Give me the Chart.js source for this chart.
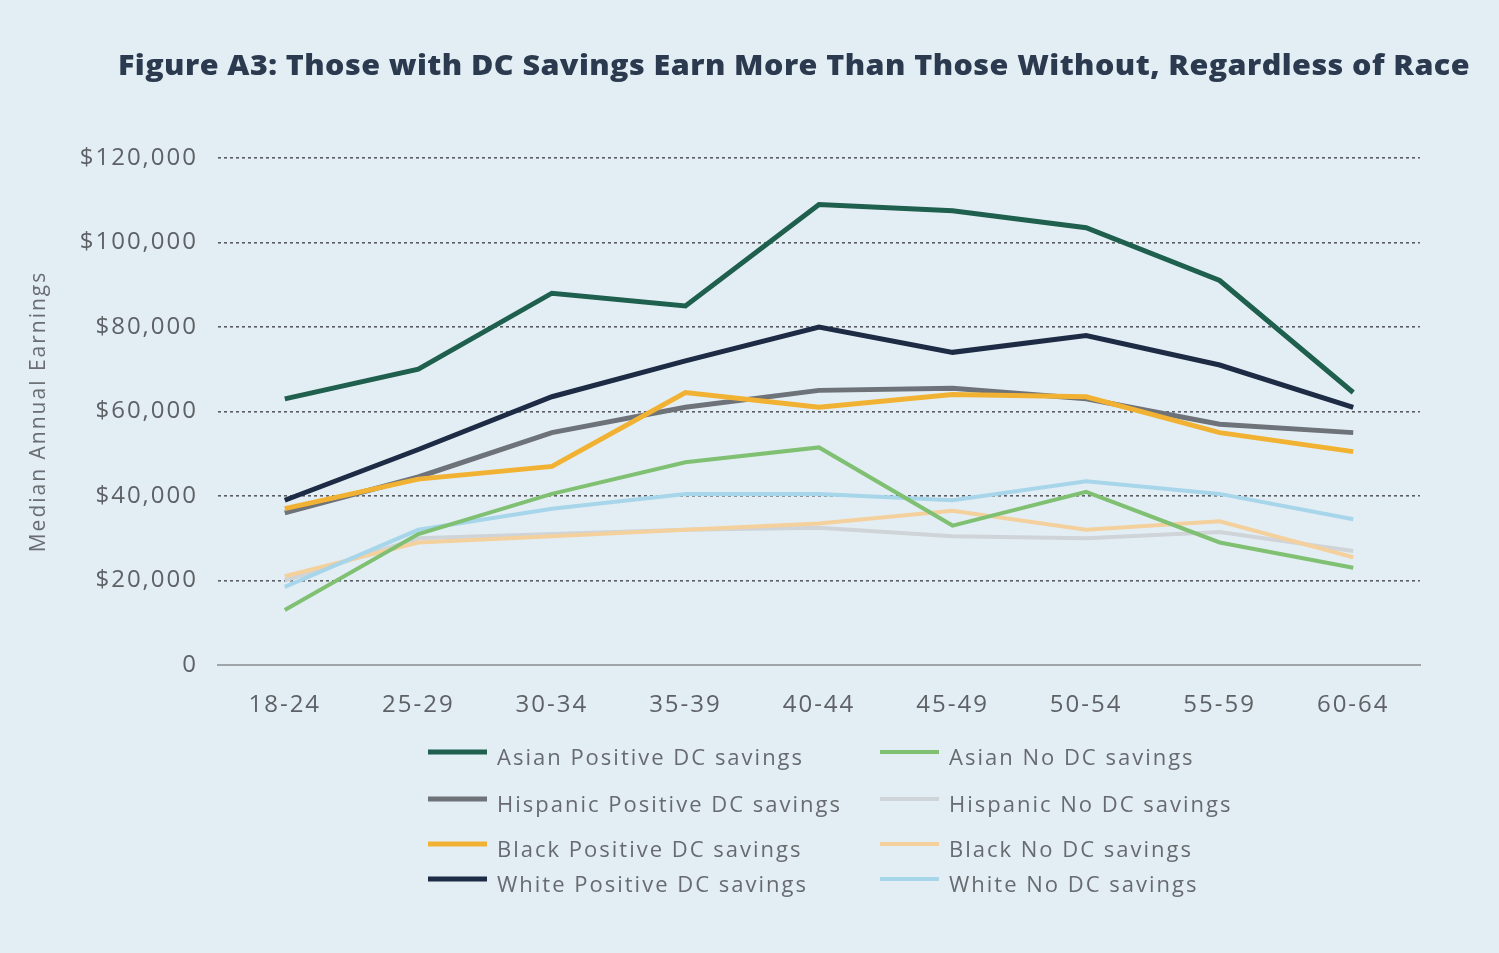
<!DOCTYPE html>
<html>
<head>
<meta charset="utf-8">
<script src="https://cdn.jsdelivr.net/npm/chart.js@4.4.1/dist/chart.umd.min.js"></script>
<style>
  html, body { margin: 0; padding: 0; background: #e3eef4; }
  #wrap { width: 1499px; height: 953px; position: relative; }
</style>
</head>
<body>
<div id="wrap"><canvas id="earningsChart" width="1499" height="953"></canvas></div>
<script>
// Median annual earnings by age group, with and without DC savings
const ageGroups = ['18-24', '25-29', '30-34', '35-39', '40-44', '45-49', '50-54', '55-59', '60-64'];

const asianPositive    = [63000, 70000, 88000, 85000, 109000, 107500, 103500, 91000, 64500];
const asianNone        = [13000, 31000, 40500, 48000, 51500, 33000, 41000, 29000, 23000];
const hispanicPositive = [36000, 44500, 55000, 61000, 65000, 65500, 63000, 57000, 55000];
const hispanicNone     = [20000, 30000, 31000, 32000, 32500, 30500, 30000, 31500, 27000];
const blackPositive    = [37000, 44000, 47000, 64500, 61000, 64000, 63500, 55000, 50500];
const blackNone        = [21000, 29000, 30500, 32000, 33500, 36500, 32000, 34000, 25500];
const whitePositive    = [39000, 51000, 63500, 72000, 80000, 74000, 78000, 71000, 61000];
const whiteNone        = [18500, 32000, 37000, 40500, 40500, 39000, 43500, 40500, 34500];

const yTicks = [0, 20000, 40000, 60000, 80000, 100000, 120000];

const chartTitle = 'Figure A3: Those with DC Savings Earn More Than Those Without, Regardless of Race';

function series(label, data, color, width) {
    return {
        label: label,
        data: data,
        borderColor: color,
        backgroundColor: color,
        borderWidth: width,
        pointRadius: 0,
        pointHoverRadius: 0,
        tension: 0,
        fill: false
    };
}

// darker "positive" lines first so they sit on top
const datasets = [
    series('Asian Positive DC savings', asianPositive, '#1f5f4e', 5),
    series('White Positive DC savings', whitePositive, '#1e2b45', 5),
    series('Black Positive DC savings', blackPositive, '#f1b234', 5),
    series('Hispanic Positive DC savings', hispanicPositive, '#6e7379', 5),
    series('Asian No DC savings', asianNone, '#80c073', 4),
    series('White No DC savings', whiteNone, '#a7d5ea', 4),
    series('Black No DC savings', blackNone, '#f4d09d', 4),
    series('Hispanic No DC savings', hispanicNone, '#cfd4d8', 4)
];

// legend layout: two columns, rows in this order
const legendOrder = [
    ['Asian Positive DC savings', 'Asian No DC savings'],
    ['Hispanic Positive DC savings', 'Hispanic No DC savings'],
    ['Black Positive DC savings', 'Black No DC savings'],
    ['White Positive DC savings', 'White No DC savings']
];

// wide tracking for all canvas text
const spacingPlugin = {
    id: 'spacing',
    beforeInit(chart) { chart.ctx.letterSpacing = '2px'; },
    beforeUpdate(chart) { chart.ctx.letterSpacing = '2px'; },
    beforeDraw(chart) { chart.ctx.letterSpacing = '2px'; }
};

const decorPlugin = {
    id: 'decor',
    afterDraw(chart) {
        const ctx = chart.ctx;
        ctx.save();

        // title, stretched to the full heading width
        ctx.letterSpacing = '0.4px';
        ctx.fillStyle = '#2b3a4e';
        ctx.font = '800 29px "Open Sans", sans-serif';
        ctx.textBaseline = 'middle';
        ctx.textAlign = 'left';
        const w = ctx.measureText(chartTitle).width;
        ctx.translate(118, 67);
        ctx.scale(1352 / w, 1);
        ctx.fillText(chartTitle, 0, 0);
        ctx.setTransform(1, 0, 0, 1, 0, 0);

        // legend
        ctx.letterSpacing = '2px';
        const colX = [428, 880];
        const rowY = [759, 806, 851, 886];
        ctx.font = '22px "Open Sans", sans-serif';
        legendOrder.forEach((row, r) => {
            row.forEach((name, c) => {
                const ds = chart.data.datasets.find(d => d.label === name);
                ctx.strokeStyle = ds.borderColor;
                ctx.lineWidth = ds.borderWidth;
                ctx.beginPath();
                ctx.moveTo(colX[c], rowY[r] - 7);
                ctx.lineTo(colX[c] + 59, rowY[r] - 7);
                ctx.stroke();
                ctx.fillStyle = '#676b6f';
                ctx.fillText(name, colX[c] + 69, rowY[r]);
            });
        });
        ctx.restore();
    }
};

const ctx = document.getElementById('earningsChart').getContext('2d');
new Chart(ctx, {
    type: 'line',
    data: {
        labels: ageGroups,
        datasets: datasets
    },
    plugins: [spacingPlugin, decorPlugin],
    options: {
        responsive: false,
        animation: false,
        layout: {
            padding: { top: 158, left: 26, right: 79, bottom: 228 }
        },
        plugins: {
            legend: { display: false },
            title: { display: false },
            tooltip: { enabled: false }
        },
        scales: {
            x: {
                offset: true,
                grid: { display: false },
                border: { display: true, color: '#9ea4a8', width: 2 },
                ticks: {
                    color: '#5e6266',
                    font: { family: '"Open Sans", sans-serif', size: 24 },
                    padding: 18,
                    maxRotation: 0
                },
                afterFit(scale) { scale.height = 60; }
            },
            y: {
                min: 0,
                max: 120000,
                afterBuildTicks(scale) {
                    scale.ticks = yTicks.map(v => ({ value: v }));
                },
                grid: {
                    color: ctx => ctx.tick && ctx.tick.value === 0 ? 'rgba(0,0,0,0)' : '#5a5d62',
                    lineWidth: 1.6,
                    drawTicks: false
                },
                border: { display: false, dash: [3, 3] },
                ticks: {
                    color: '#5e6266',
                    font: { family: '"Open Sans", sans-serif', size: 24 },
                    padding: 20,
                    callback: v => v === 0 ? '0' : '$' + v.toLocaleString('en-US')
                },
                title: {
                    display: true,
                    text: 'Median Annual Earnings',
                    color: '#6a6e72',
                    font: { family: '"Open Sans", sans-serif', size: 21 },
                    padding: { top: 0, bottom: 8 }
                },
                afterFit(scale) { scale.width = 192; }
            }
        }
    }
});
</script>
</body>
</html>
